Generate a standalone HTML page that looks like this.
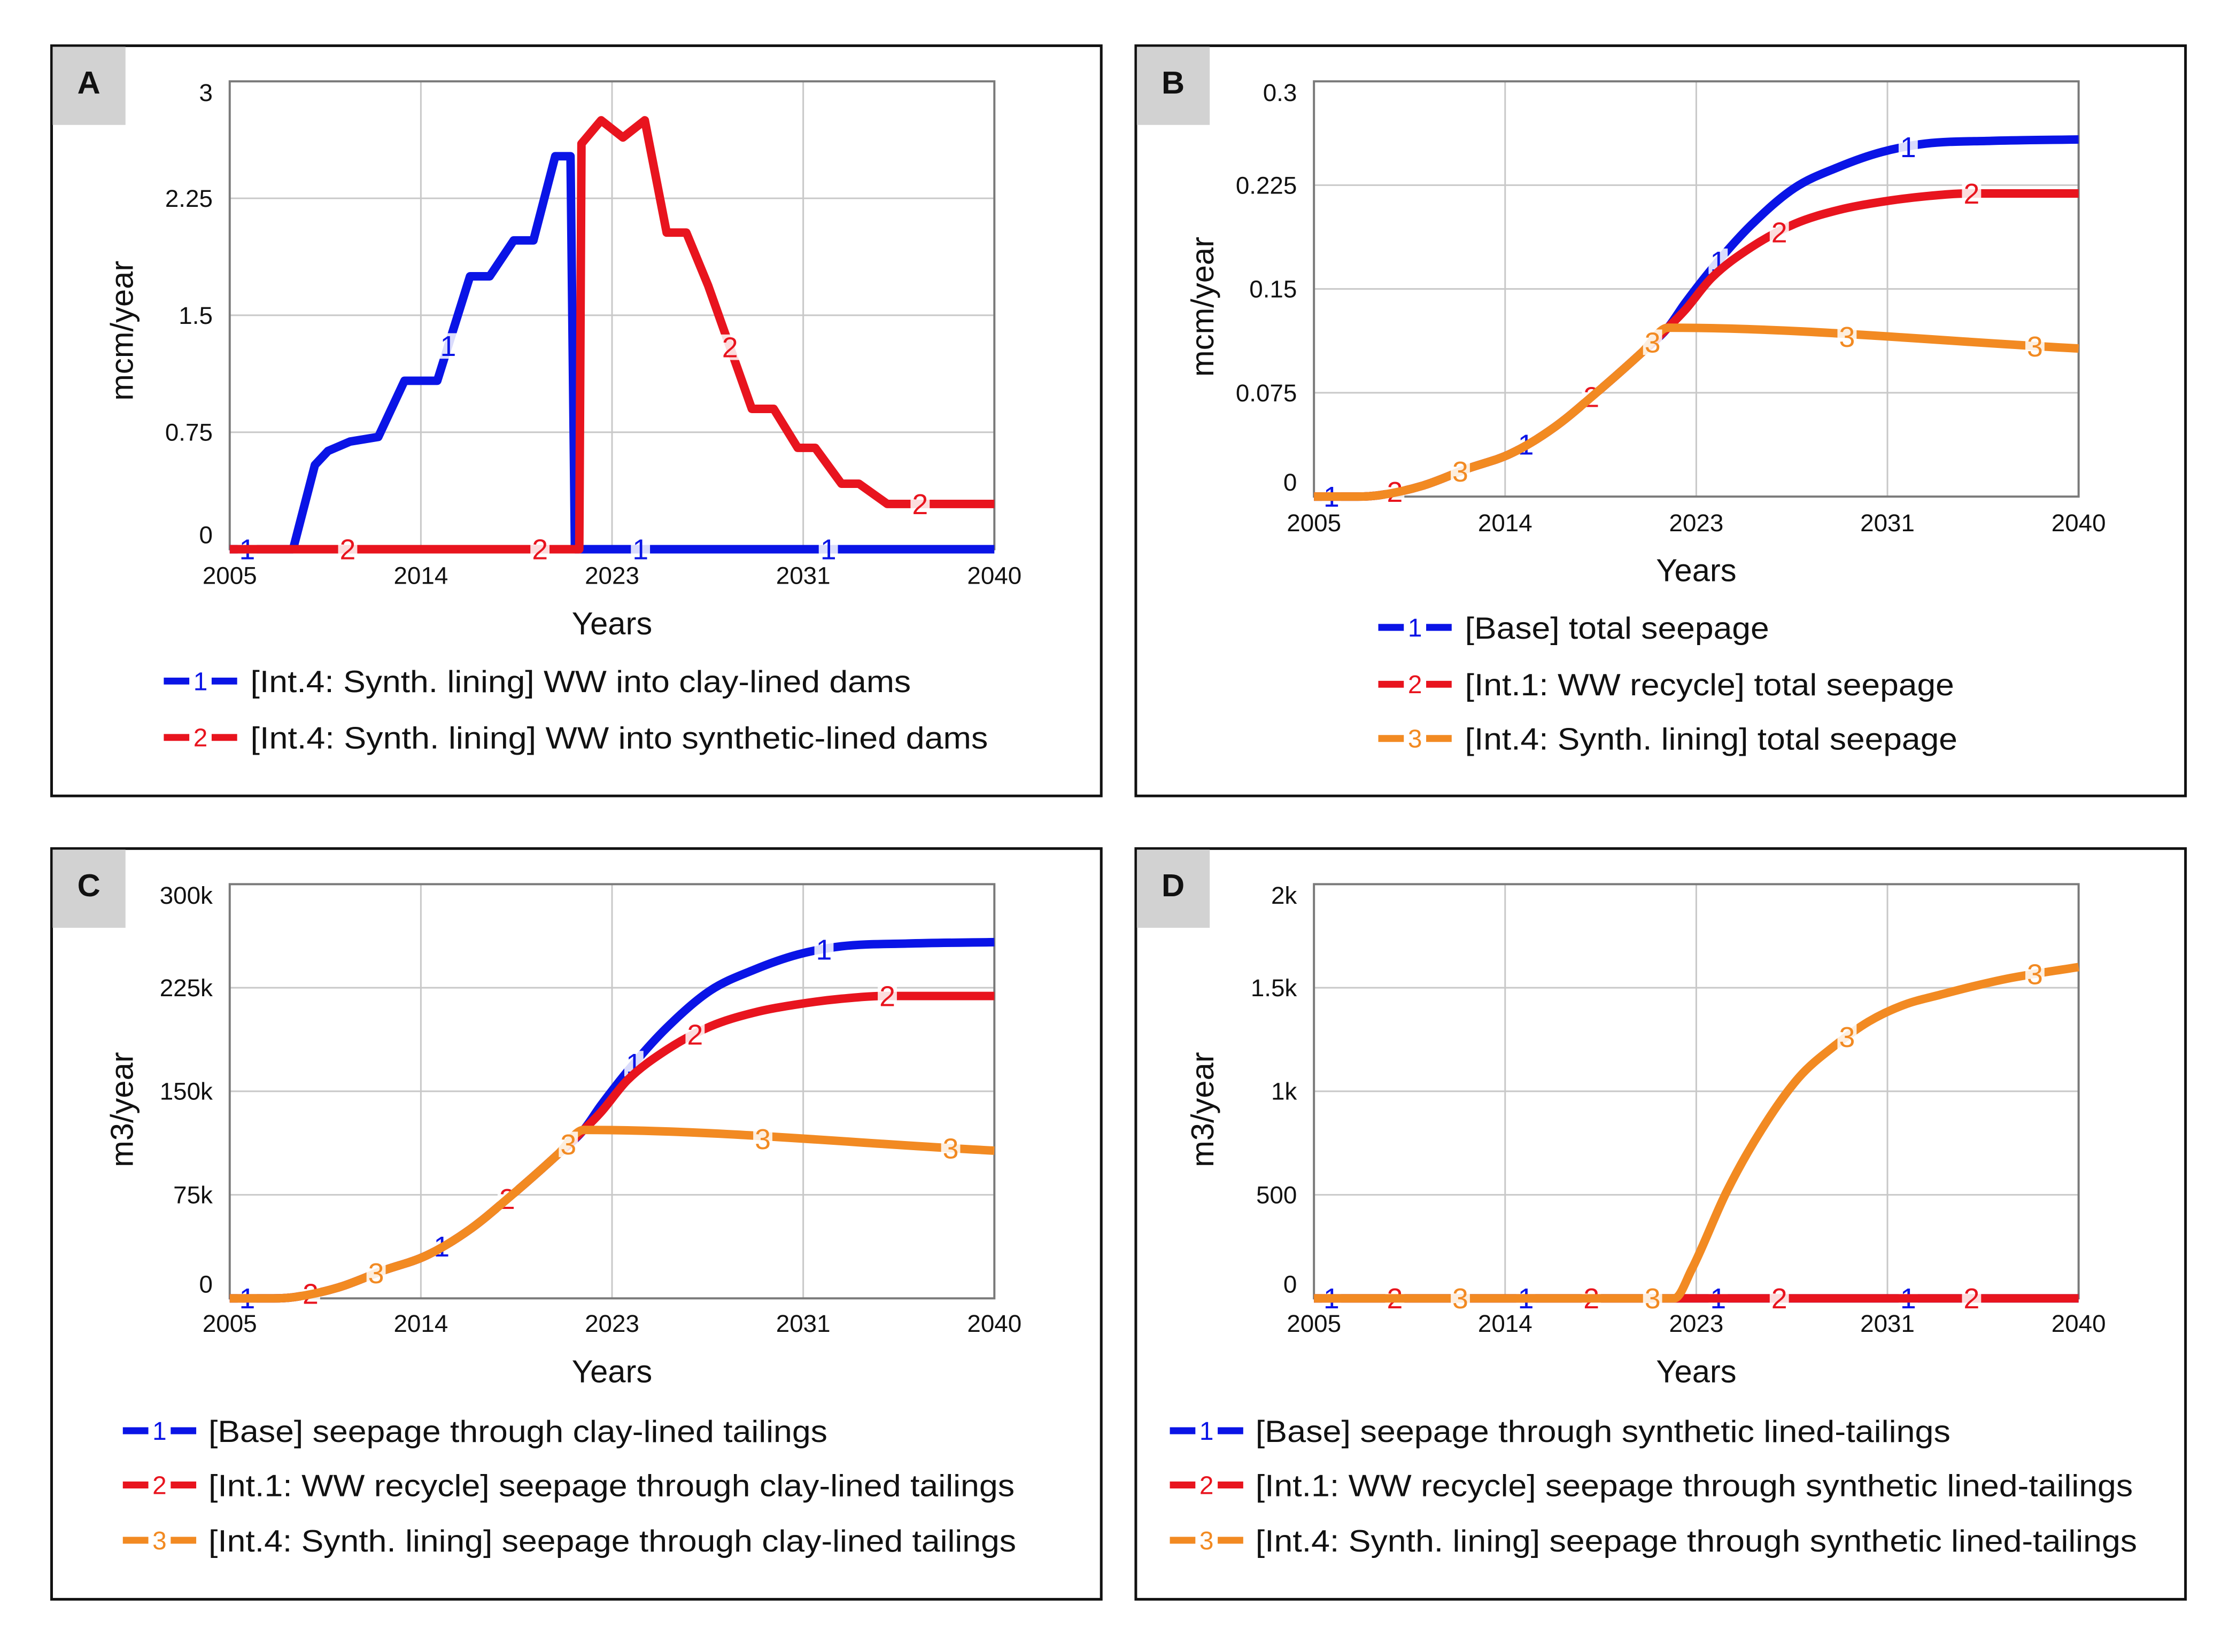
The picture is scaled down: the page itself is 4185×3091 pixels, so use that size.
<!DOCTYPE html>
<html><head><meta charset="utf-8">
<style>
html,body{margin:0;padding:0;background:#fff;}
svg{display:block;font-family:"Liberation Sans",Arial,sans-serif;}
</style></head>
<body>
<svg id="svg" width="4185" height="3091" viewBox="0 0 4185 3091" xmlns="http://www.w3.org/2000/svg"><g id="root" transform="scale(0.9948)"></g></svg>
<script>
// ---------- DATA ----------
// Panel A
const aYears1 = [2005,2007.9,2008.9,2009.5,2010.5,2011.8,2013,2014.5,2016,2016.9,2018,2018.9,2019.9,2020.6,2020.8,2040];
const aVals1  = [0,0,0.54,0.63,0.69,0.72,1.08,1.08,1.75,1.75,1.98,1.98,2.52,2.52,0,0];
const aYears2 = [2005,2021.0,2021.1,2022,2023,2024,2025,2025.9,2026.9,2028.9,2029.9,2031,2031.8,2033,2033.8,2035.1,2040];
const aVals2  = [0,0,2.6,2.75,2.64,2.75,2.03,2.03,1.69,0.9,0.9,0.65,0.65,0.42,0.42,0.29,0.29];
const aTicksY = ["0","0.75","1.5","2.25","3"];
// Panel B
const bYears1 = [2005,2007,2008,2010,2012,2014,2016,2018,2020,2021.2,2022,2023.5,2025,2027,2029,2031,2033,2036,2040];
const bVals1  = [0,0,0.001,0.008,0.02,0.031,0.05,0.076,0.104,0.122,0.14,0.17,0.196,0.223,0.238,0.249,0.255,0.257,0.258];
const bYears2 = [2005,2007,2008,2010,2012,2014,2016,2018,2020,2021.2,2022,2023.2,2025,2027,2029,2031,2033,2035,2040];
const bVals2  = [0,0,0.001,0.008,0.02,0.031,0.05,0.076,0.104,0.122,0.135,0.158,0.18,0.197,0.207,0.213,0.217,0.219,0.219];
const bYears3 = [2005,2007,2008,2010,2012,2014,2016,2018,2020,2021.2,2040];
const bVals3  = [0,0,0.001,0.008,0.02,0.031,0.05,0.076,0.104,0.122,0.107];
const bTicksY = ["0","0.075","0.15","0.225","0.3"];
// Panel C (thousand m3/year)
const cYears1 = [2005,2007,2008,2010,2012,2014,2016,2018,2020,2021.2,2022,2023.5,2025,2027,2029,2031,2033,2036,2040];
const cVals1  = [0,0,1,8,20,31,50,76,104,122,140,170,196,223,238,249,255,257,258];
const cYears2 = [2005,2007,2008,2010,2012,2014,2016,2018,2020,2021.2,2022,2023.2,2025,2027,2029,2031,2033,2035,2040];
const cVals2  = [0,0,1,8,20,31,50,76,104,122,135,158,180,197,207,213,217,219,219];
const cYears3 = [2005,2007,2008,2010,2012,2014,2016,2018,2020,2021.2,2040];
const cVals3  = [0,0,1,8,20,31,50,76,104,122,107];
const cTicksY = ["0","75k","150k","225k","300k"];
// Panel D
const dYears1 = [2005,2040];
const dVals1  = [0,0];
const dYears2 = [2005,2040];
const dVals2  = [0,0];
const dYears3 = [2005,2021.5,2022.3,2023.9,2025.5,2027.2,2028.8,2030.4,2032,2033.7,2035.3,2036.9,2040];
const dVals3  = [0,0,142,517,817,1067,1217,1337,1417,1467,1510,1547,1600];
const dTicksY = ["0","500","1k","1.5k","2k"];
const xTicks = ["2005","2014","2023","2031","2040"];
// label marker years
const mk1 = [2005.8,2014.7,2023.5,2032.2];
const mk2 = [2008.7,2017.7,2026.3,2035.1];
const mk3 = [2011.7,2020.5,2029.4,2038];
const aMk1 = [2005.8,2015.0,2023.8,2032.4];
const aMk2 = [2010.4,2019.2,2027.9,2036.6];

const NS="http://www.w3.org/2000/svg";
const root=document.getElementById('root');
const COL={1:"#0a14e6",2:"#e8141e",3:"#f28a22"};
function mk(tag,attrs,parent){const e=document.createElementNS(NS,tag);for(const k in attrs)e.setAttribute(k,attrs[k]);(parent||root).appendChild(e);return e;}
function interp(xs,ys,x){for(let i=0;i<xs.length-1;i++){if(x>=xs[i]&&x<=xs[i+1]){const t=(x-xs[i])/(xs[i+1]-xs[i]||1);return ys[i]+t*(ys[i+1]-ys[i]);}}return ys[ys.length-1];}
function smoothPath(P){
  const n=P.length; if(n<3) return 'M'+P.map(p=>p[0].toFixed(1)+','+p[1].toFixed(1)).join(' L');
  const d=[],m=[];
  for(let i=0;i<n-1;i++)d.push((P[i+1][1]-P[i][1])/(P[i+1][0]-P[i][0]));
  m[0]=d[0];m[n-1]=d[n-2];
  for(let i=1;i<n-1;i++){m[i]=(d[i-1]*d[i]<=0)?0:(d[i-1]+d[i])/2;}
  for(let i=0;i<n-1;i++){
    if(d[i]===0){m[i]=0;m[i+1]=0;continue;}
    const a=m[i]/d[i],b=m[i+1]/d[i],s=a*a+b*b;
    if(s>9){const t=3/Math.sqrt(s);m[i]=t*a*d[i];m[i+1]=t*b*d[i];}
  }
  let s='M'+P[0][0].toFixed(1)+','+P[0][1].toFixed(1);
  for(let i=0;i<n-1;i++){
    const h=(P[i+1][0]-P[i][0])/3;
    s+=` C${(P[i][0]+h).toFixed(1)},${(P[i][1]+m[i]*h).toFixed(1)} ${(P[i+1][0]-h).toFixed(1)},${(P[i+1][1]-m[i+1]*h).toFixed(1)} ${P[i+1][0].toFixed(1)},${P[i+1][1].toFixed(1)}`;
  }
  return s;
}

function panel(cfg){
  const g=mk('g',{});
  
  
  const fr=mk('rect',{x:cfg.bx,y:cfg.by,width:cfg.bw,height:cfg.bh,fill:'none',stroke:'#111',"stroke-width":5},g);
  
  
  const lb=mk('rect',{x:cfg.bx+2,y:cfg.by+2,width:137,height:147,fill:'#d2d2d2'},g);
  
  
  const lt=mk('text',{x:cfg.bx+70,y:cfg.by+90,"font-size":60,"font-weight":"bold","text-anchor":"middle",fill:'#111'},g);
  lt.textContent=cfg.id;
  
  
  const L=cfg.px,R=cfg.px+1438,T=cfg.py,B=cfg.py+cfg.ph;
  const xs=v=>L+(v-2005)/35*(R-L);
  const ys=v=>B-v/cfg.ymax*(B-T);
  for(let i=1;i<4;i++){
    const gx=mk('line',{x1:L+i*(R-L)/4,x2:L+i*(R-L)/4,y1:T,y2:B,stroke:'#c8c8c8',"stroke-width":3},g);
    
    
    const gy=mk('line',{x1:L,x2:R,y1:T+i*(B-T)/4,y2:T+i*(B-T)/4,stroke:'#c8c8c8',"stroke-width":3},g);
    
    
  }
  const pf=mk('rect',{x:L,y:T,width:R-L,height:B-T,fill:'none',stroke:'#7a7a7a',"stroke-width":4},g);
  
  
  cfg.ticksY.forEach((t,i)=>{
    let y=B-i*(B-T)/4+16; if(i===0)y-=27; if(i===4)y+=21;
    const e=mk('text',{x:L-32,y:y,"font-size":46,"text-anchor":"end",fill:'#111'},g);
    e.textContent=t;
    
    
  });
  xTicks.forEach((t,i)=>{
    const e=mk('text',{x:L+i*(R-L)/4,y:cfg.xty,"font-size":46,"text-anchor":"middle",fill:'#111'},g);
    e.textContent=t;
    
    
  });
  const xt=mk('text',{x:(L+R)/2,y:cfg.xtitle,"font-size":60,"text-anchor":"middle",fill:'#111'},g);
  xt.textContent='Years';
  
  
  const yt=mk('text',{x:0,y:0,"font-size":60,"text-anchor":"middle",fill:'#111',transform:`translate(${cfg.ytx},${cfg.yty}) rotate(-90)`},g);
  yt.textContent=cfg.ytitle;
  
  
  cfg.series.forEach(s=>{
    let pl;
    if(cfg.smooth){
      const P=s.x.map((v,i)=>[xs(v),ys(s.y[i])]);
      pl=mk('path',{d:smoothPath(P),fill:'none',stroke:COL[s.n],"stroke-width":16,"stroke-linejoin":"round"},g);
    } else {
      const pts=s.x.map((v,i)=>xs(v).toFixed(1)+','+ys(s.y[i]).toFixed(1)).join(' ');
      pl=mk('polyline',{points:pts,fill:'none',stroke:COL[s.n],"stroke-width":16,"stroke-linejoin":"round"},g);
    }
    
    
    s.mk.forEach(m=>{
      const cx=xs(m),cy=ys(interp(s.x,s.y,m));
      const bg=mk('rect',{x:cx-18,y:cy-24,width:36,height:48,fill:'#fff',opacity:0.85},g);
      
      
      const tx=mk('text',{x:cx,y:cy+19,"font-size":54,"text-anchor":"middle",fill:COL[s.n]},g);
      tx.textContent=String(s.n);
      
      
    });
  });
  cfg.legend.forEach((l,i)=>{
    const y=cfg.ly[i];
    const lg=mk('g',{},g);
    
    
    mk('line',{x1:cfg.lmx,x2:cfg.lmx+48,y1:y,y2:y,stroke:COL[l.n],"stroke-width":13},lg);
    mk('line',{x1:cfg.lmx+90,x2:cfg.lmx+138,y1:y,y2:y,stroke:COL[l.n],"stroke-width":13},lg);
    const nt=mk('text',{x:cfg.lmx+69,y:y+17,"font-size":48,"text-anchor":"middle",fill:COL[l.n]},lg);
    nt.textContent=String(l.n);
    const tt=mk('text',{x:cfg.ltx,y:y+21,"font-size":58,fill:'#111',textLength:l.w,lengthAdjust:'spacingAndGlyphs'},lg);
    tt.textContent=l.t;
  });
}

panel({id:'A',bx:97,by:86,bw:1974,bh:1411,px:432,py:153,ph:880,ymax:3,ticksY:aTicksY,xty:1098,xtitle:1193,
  ytx:250,yty:622,ytitle:'mcm/year',smooth:false,
  series:[{n:1,x:aYears1,y:aVals1,mk:aMk1},{n:2,x:aYears2,y:aVals2,mk:aMk2}],
  lmx:308,ltx:471,ly:[1281,1387],
  legend:[{n:1,t:'[Int.4: Synth. lining] WW into clay-lined dams',w:1242},{n:2,t:'[Int.4: Synth. lining] WW into synthetic-lined dams',w:1387}]});
panel({id:'B',bx:2136,by:86,bw:1974,bh:1411,px:2471,py:153,ph:781,ymax:0.3,ticksY:bTicksY,xty:999,xtitle:1093,
  ytx:2282,yty:577,ytitle:'mcm/year',smooth:true,
  series:[{n:1,x:bYears1,y:bVals1,mk:mk1},{n:2,x:bYears2,y:bVals2,mk:mk2},{n:3,x:bYears3,y:bVals3,mk:mk3}],
  lmx:2592,ltx:2755,ly:[1180,1287,1389],
  legend:[{n:1,t:'[Base] total seepage',w:572},{n:2,t:'[Int.1: WW recycle] total seepage',w:920},{n:3,t:'[Int.4: Synth. lining] total seepage',w:926}]});
panel({id:'C',bx:97,by:1596,bw:1974,bh:1412,px:432,py:1663,ph:779,ymax:300,ticksY:cTicksY,xty:2505,xtitle:2600,
  ytx:250,yty:2087,ytitle:'m3/year',smooth:true,
  series:[{n:1,x:cYears1,y:cVals1,mk:mk1},{n:2,x:cYears2,y:cVals2,mk:mk2},{n:3,x:cYears3,y:cVals3,mk:mk3}],
  lmx:231,ltx:392,ly:[2691,2793,2897],
  legend:[{n:1,t:'[Base] seepage through clay-lined tailings',w:1164},{n:2,t:'[Int.1: WW recycle] seepage through clay-lined tailings',w:1516},{n:3,t:'[Int.4: Synth. lining] seepage through clay-lined tailings',w:1519}]});
panel({id:'D',bx:2136,by:1596,bw:1974,bh:1412,px:2471,py:1663,ph:779,ymax:2000,ticksY:dTicksY,xty:2505,xtitle:2600,
  ytx:2282,yty:2087,ytitle:'m3/year',smooth:true,
  series:[{n:1,x:dYears1,y:dVals1,mk:mk1},{n:2,x:dYears2,y:dVals2,mk:mk2},{n:3,x:dYears3,y:dVals3,mk:mk3}],
  lmx:2200,ltx:2361,ly:[2691,2793,2897],
  legend:[{n:1,t:'[Base] seepage through synthetic lined-tailings',w:1307},{n:2,t:'[Int.1: WW recycle] seepage through synthetic lined-tailings',w:1650},{n:3,t:'[Int.4: Synth. lining] seepage through synthetic lined-tailings',w:1658}]});
</script>
</body></html>
